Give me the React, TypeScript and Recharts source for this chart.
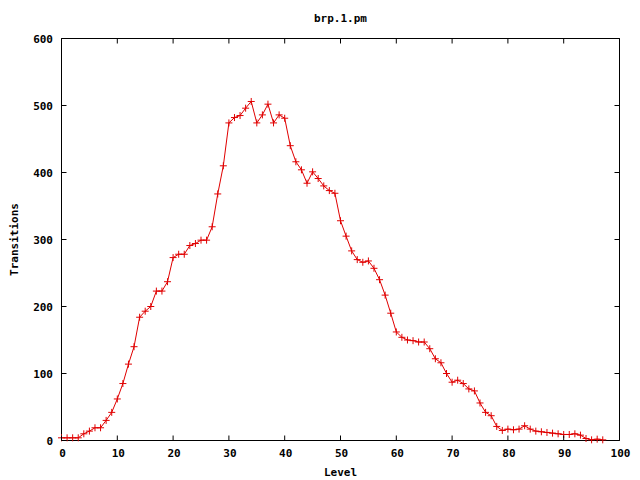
import React from 'react';
import { LineChart, Line, XAxis, YAxis, ReferenceLine } from 'recharts';

const levels: number[] = Array.from({ length: 98 }, (_, i) => i);
const transitions: number[] = [
  4, 4, 4, 4, 10, 14, 19, 19, 30, 42,
  62, 85, 114, 140, 184, 193, 200, 223, 223, 237,
  273, 278, 278, 291, 294, 299, 299, 319, 368, 410,
  474, 482, 485, 496, 506, 474, 486, 502, 474, 486,
  481, 440, 416, 404, 384, 401, 391, 380, 373, 369,
  328, 305, 283, 270, 266, 268, 257, 240, 217, 190,
  162, 154, 150, 149, 147, 147, 137, 122, 116, 100,
  87, 90, 85, 77, 74, 56, 42, 37, 21, 15,
  17, 16, 17, 22, 17, 14, 13, 12, 11, 10,
  9, 9, 10, 8, 3, 1, 2, 1,
];
const xTicks: number[] = [0, 10, 20, 30, 40, 50, 60, 70, 80, 90, 100];
const yTicks: number[] = [0, 100, 200, 300, 400, 500, 600];
const title = 'brp.1.pm';
const xLabel = 'Level';
const yLabel = 'Transitions';

const data = levels.map((l, i) => ({ level: l, value: transitions[i] }));

const W = 640;
const H = 480;
const MARGIN = { top: 38.5, right: 20.5, bottom: 0, left: 0 };
const Y_AXIS_W = 61.5;
const X_AXIS_H = 39.5;
const PLOT_TOP = MARGIN.top;
const PLOT_LEFT = MARGIN.left + Y_AXIS_W;
const PLOT_RIGHT = W - MARGIN.right;
const PLOT_BOTTOM = H - MARGIN.bottom - X_AXIS_H;
const TICK = 5;

const RED = '#e00000';
const FONT = '"DejaVu Sans Mono", monospace';
const textStyle = { fontFamily: FONT, fontSize: 11, fontWeight: 'bold', fill: '#000' };

const Plus = (props: any) => {
  const { cx, cy, index } = props;
  if (cx == null || cy == null) return <g key={`p${index}`} />;
  const s = 3.5;
  return (
    <path
      key={`p${index}`}
      d={`M${cx - s},${cy}H${cx + s}M${cx},${cy - s}V${cy + s}`}
      stroke={RED}
      strokeWidth={1}
      fill="none"
    />
  );
};

const XTick = (props: any) => {
  const { x, payload } = props;
  return (
    <g>
      <line x1={x} y1={PLOT_BOTTOM} x2={x} y2={PLOT_BOTTOM - TICK} stroke="#000" strokeWidth={1} />
      <line x1={x} y1={PLOT_TOP} x2={x} y2={PLOT_TOP + TICK} stroke="#000" strokeWidth={1} />
      <text x={x + 1} y={PLOT_BOTTOM + 16.5} textAnchor="middle" style={textStyle}>
        {payload.value}
      </text>
    </g>
  );
};

const YTick = (props: any) => {
  const { y, payload } = props;
  return (
    <g>
      <line x1={PLOT_LEFT} y1={y} x2={PLOT_LEFT + TICK} y2={y} stroke="#000" strokeWidth={1} />
      <line x1={PLOT_RIGHT} y1={y} x2={PLOT_RIGHT - TICK} y2={y} stroke="#000" strokeWidth={1} />
      <text x={PLOT_LEFT - 8.5} y={y + 4} textAnchor="end" style={textStyle}>
        {payload.value}
      </text>
    </g>
  );
};

export default function App() {
  return (
    <div style={{ position: 'absolute', left: 0, top: 0, width: W, height: H, background: '#fff' }}>
      <LineChart width={W} height={H} data={data} margin={MARGIN}>
        <XAxis
          xAxisId="b"
          dataKey="level"
          type="number"
          domain={[0, 100]}
          ticks={xTicks}
          interval={0}
          height={X_AXIS_H}
          tickSize={0}
          tickMargin={0}
          tickLine={false}
          tick={<XTick />}
          axisLine={{ stroke: '#000', strokeWidth: 1 }}
          label={{ value: xLabel, position: 'insideBottom', offset: 4, style: textStyle }}
        />
        <YAxis
          yAxisId="l"
          type="number"
          domain={[0, 600]}
          ticks={yTicks}
          interval={0}
          width={Y_AXIS_W}
          tickSize={0}
          tickMargin={0}
          tickLine={false}
          tick={<YTick />}
          axisLine={{ stroke: '#000', strokeWidth: 1 }}
          label={{ value: yLabel, angle: -90, position: 'center', dx: -17, style: textStyle }}
        />
        <ReferenceLine
          xAxisId="b"
          yAxisId="l"
          y={600}
          stroke="#000"
          strokeWidth={1}
          label={{ value: title, position: 'top', offset: 17, style: textStyle }}
        />
        <ReferenceLine xAxisId="b" yAxisId="l" x={100} stroke="#000" strokeWidth={1} />
        <Line
          xAxisId="b"
          yAxisId="l"
          type="linear"
          dataKey="value"
          stroke={RED}
          strokeWidth={1}
          dot={Plus}
          activeDot={false}
          isAnimationActive={false}
        />
      </LineChart>
    </div>
  );
}
